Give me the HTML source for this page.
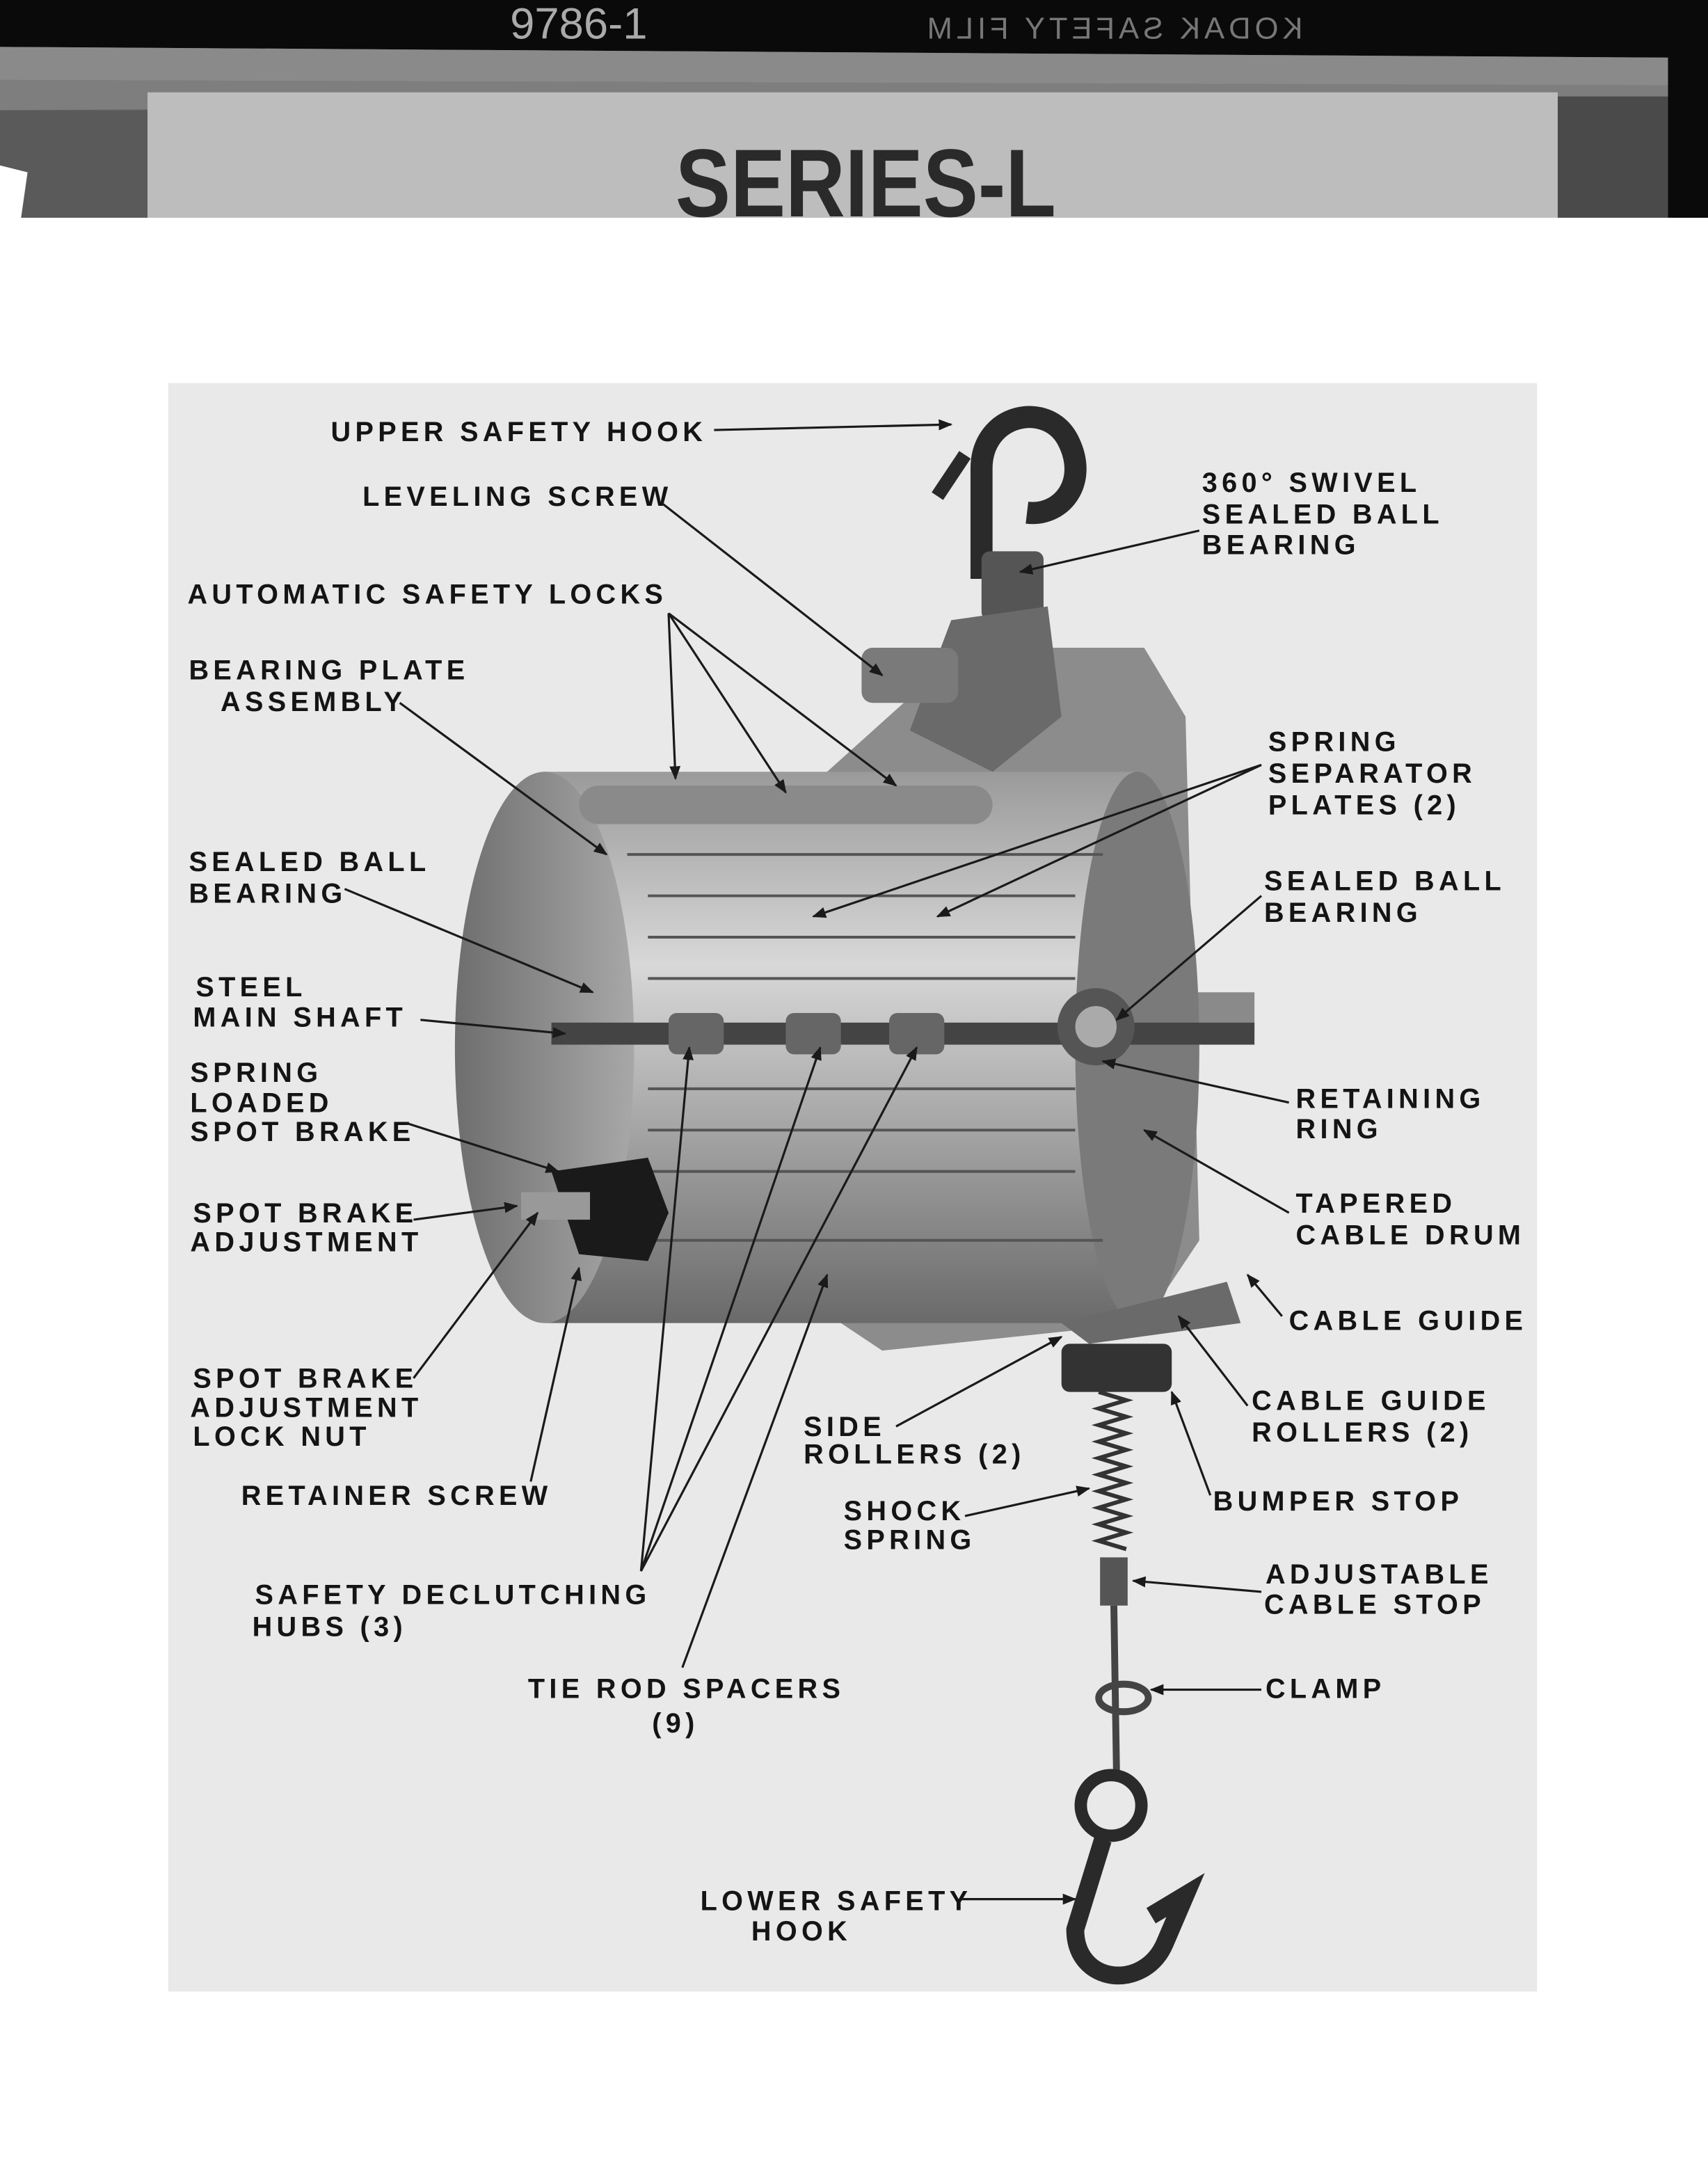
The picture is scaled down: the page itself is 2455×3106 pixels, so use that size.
<!DOCTYPE html>
<html><head><meta charset="utf-8"><style>
html,body{margin:0;padding:0;background:#fff;}
svg{display:block;}
.l{font-family:"Liberation Sans",sans-serif;font-weight:bold;font-size:20px;letter-spacing:3.2px;fill:#141414;}
.ln{stroke:#1a1a1a;stroke-width:1.6;fill:none;}
</style></head><body>
<svg width="2455" height="3106" viewBox="0 0 1239 1568" preserveAspectRatio="none" xmlns="http://www.w3.org/2000/svg">
<defs>
<marker id="a" markerWidth="10" markerHeight="8" refX="9" refY="4" orient="auto" markerUnits="userSpaceOnUse"><path d="M0,0 L10,4 L0,8 Z" fill="#1a1a1a"/></marker>
<linearGradient id="drum" x1="0" y1="0" x2="0" y2="1"><stop offset="0" stop-color="#9a9a9a"/><stop offset="0.35" stop-color="#d8d8d8"/><stop offset="0.7" stop-color="#9c9c9c"/><stop offset="1" stop-color="#6a6a6a"/></linearGradient>
<linearGradient id="end" x1="0" y1="0" x2="1" y2="0"><stop offset="0" stop-color="#6e6e6e"/><stop offset="1" stop-color="#a8a8a8"/></linearGradient>
</defs>
<rect width="1239" height="1568" fill="#fff"/>
<!-- header -->
<polygon points="0,0 1239,0 1239,160 0,160" fill="#6a6a6a"/>
<polygon points="0,0 1239,0 1239,42 0,34" fill="#0a0a0a"/>
<polygon points="0,34 1239,42 1239,62 0,58" fill="#8a8a8a"/>
<polygon points="0,58 1239,62 1239,72 0,80" fill="#7e7e7e"/>
<rect x="0" y="80" width="107" height="80" fill="#5a5a5a"/>
<rect x="1130" y="70" width="80" height="90" fill="#4a4a4a"/>
<rect x="1210" y="0" width="29" height="160" fill="#0a0a0a"/>
<rect x="107" y="67" width="1023" height="94" fill="#bdbdbd"/>
<polygon points="0,120 20,125 15,160 0,160" fill="#fff"/>
<rect x="0" y="158" width="1239" height="4" fill="#fff"/>
<text x="955" y="28" font-family="Liberation Sans,sans-serif" font-size="22" fill="#777" transform="translate(1900,0) scale(-1,1)" letter-spacing="3">KODAK SAFETY FILM</text>
<text x="370" y="28" font-family="Liberation Sans,sans-serif" font-size="32" fill="#aaa">9786-1</text>
<text x="490" y="157" textLength="276" lengthAdjust="spacingAndGlyphs" font-family="Liberation Sans Narrow,Liberation Sans,sans-serif" font-weight="bold" font-size="70" fill="#2a2a2a">SERIES-L</text>
<!-- diagram area -->
<rect x="122" y="278" width="993" height="1167" fill="#e9e9e9"/>
<!-- machine: back plate -->
<polygon points="600,560 700,470 830,470 860,520 870,900 830,960 640,980 610,960" fill="#8c8c8c"/>
<rect x="835" y="720" width="75" height="30" fill="#8a8a8a"/>
<!-- upper hook -->
<path d="M712,420 L712,340 C712,300 760,290 775,320 C790,350 770,375 745,372" stroke="#2a2a2a" stroke-width="16" fill="none"/>
<path d="M700,330 L680,360" stroke="#2a2a2a" stroke-width="10"/>
<rect x="712" y="400" width="45" height="50" rx="6" fill="#555"/>
<polygon points="690,450 760,440 770,520 720,560 660,530" fill="#6a6a6a"/>
<rect x="625" y="470" width="70" height="40" rx="8" fill="#7a7a7a"/>
<!-- drum -->
<rect x="395" y="560" width="430" height="400" fill="url(#drum)"/>
<ellipse cx="825" cy="760" rx="45" ry="200" fill="#7a7a7a"/>
<ellipse cx="395" cy="760" rx="65" ry="200" fill="url(#end)"/>
<g stroke="#555" stroke-width="2">
<line x1="455" y1="620" x2="800" y2="620"/><line x1="455" y1="900" x2="800" y2="900"/>
<line x1="470" y1="650" x2="780" y2="650"/><line x1="470" y1="680" x2="780" y2="680"/>
<line x1="470" y1="710" x2="780" y2="710"/><line x1="470" y1="790" x2="780" y2="790"/>
<line x1="470" y1="820" x2="780" y2="820"/><line x1="470" y1="850" x2="780" y2="850"/>
</g>
<rect x="420" y="570" width="300" height="28" rx="14" fill="#8a8a8a"/>
<rect x="400" y="742" width="510" height="16" fill="#444"/>
<rect x="485" y="735" width="40" height="30" rx="6" fill="#666"/>
<rect x="570" y="735" width="40" height="30" rx="6" fill="#666"/>
<rect x="645" y="735" width="40" height="30" rx="6" fill="#666"/>
<circle cx="795" cy="745" r="28" fill="#555"/><circle cx="795" cy="745" r="15" fill="#aaa"/>
<path d="M400,850 L470,840 L485,880 L470,915 L420,910 Z" fill="#1a1a1a"/>
<rect x="378" y="865" width="50" height="20" fill="#999"/>
<!-- lower assembly -->
<polygon points="770,960 890,930 900,960 790,975" fill="#6a6a6a"/>
<rect x="770" y="975" width="80" height="35" rx="6" fill="#333"/>
<path d="M797,1010 l20,6 l-20,6 l20,6 l-20,6 l20,6 l-20,6 l20,6 l-20,6 l20,6 l-20,6 l20,6 l-20,6 l20,6 l-20,6 l20,6 l-20,6 l20,6 l-20,6 l20,6" stroke="#333" stroke-width="3" fill="none"/>
<rect x="798" y="1130" width="20" height="35" fill="#555"/>
<line x1="808" y1="1165" x2="810" y2="1290" stroke="#444" stroke-width="5"/>
<ellipse cx="815" cy="1232" rx="18" ry="10" fill="none" stroke="#444" stroke-width="5"/>
<circle cx="806" cy="1310" r="22" fill="none" stroke="#2a2a2a" stroke-width="9"/>
<path d="M800,1335 L780,1400 C780,1440 830,1445 845,1410 L860,1375 L835,1390" stroke="#2a2a2a" stroke-width="13" fill="none"/>
<!-- labels -->
<g class="l">
<text x="240" y="320">UPPER SAFETY HOOK</text>
<text x="263" y="367">LEVELING SCREW</text>
<text x="136" y="438">AUTOMATIC SAFETY LOCKS</text>
<text x="137" y="493">BEARING PLATE</text><text x="160" y="516">ASSEMBLY</text>
<text x="872" y="357">360° SWIVEL</text><text x="872" y="380">SEALED BALL</text><text x="872" y="402">BEARING</text>
<text x="920" y="545">SPRING</text><text x="920" y="568">SEPARATOR</text><text x="920" y="591">PLATES (2)</text>
<text x="917" y="646">SEALED BALL</text><text x="917" y="669">BEARING</text>
<text x="137" y="632">SEALED BALL</text><text x="137" y="655">BEARING</text>
<text x="142" y="723">STEEL</text><text x="140" y="745">MAIN SHAFT</text>
<text x="138" y="785">SPRING</text><text x="138" y="807">LOADED</text><text x="138" y="828">SPOT BRAKE</text>
<text x="140" y="887">SPOT BRAKE</text><text x="138" y="908">ADJUSTMENT</text>
<text x="140" y="1007">SPOT BRAKE</text><text x="138" y="1028">ADJUSTMENT</text><text x="140" y="1049">LOCK NUT</text>
<text x="175" y="1092">RETAINER SCREW</text>
<text x="185" y="1164">SAFETY DECLUTCHING</text><text x="183" y="1187">HUBS (3)</text>
<text x="383" y="1232">TIE ROD SPACERS</text><text x="473" y="1257">(9)</text>
<text x="940" y="804">RETAINING</text><text x="940" y="826">RING</text>
<text x="940" y="880">TAPERED</text><text x="940" y="903">CABLE DRUM</text>
<text x="935" y="965">CABLE GUIDE</text>
<text x="908" y="1023">CABLE GUIDE</text><text x="908" y="1046">ROLLERS (2)</text>
<text x="583" y="1042">SIDE</text><text x="583" y="1062">ROLLERS (2)</text>
<text x="880" y="1096">BUMPER STOP</text>
<text x="612" y="1103">SHOCK</text><text x="612" y="1124">SPRING</text>
<text x="918" y="1149">ADJUSTABLE</text><text x="917" y="1171">CABLE STOP</text>
<text x="918" y="1232">CLAMP</text>
<text x="508" y="1386">LOWER SAFETY</text><text x="545" y="1408">HOOK</text>
</g>
<g class="ln" marker-end="url(#a)">
<line x1="518" y1="312" x2="690" y2="308"/>
<line x1="480" y1="365" x2="640" y2="490"/>
<line x1="485" y1="445" x2="490" y2="565"/><line x1="485" y1="445" x2="570" y2="575"/><line x1="485" y1="445" x2="650" y2="570"/>
<line x1="290" y1="510" x2="440" y2="620"/>
<line x1="870" y1="385" x2="740" y2="415"/>
<line x1="915" y1="555" x2="590" y2="665"/><line x1="915" y1="555" x2="680" y2="665"/>
<line x1="915" y1="650" x2="810" y2="740"/>
<line x1="250" y1="645" x2="430" y2="720"/>
<line x1="305" y1="740" x2="410" y2="750"/>
<line x1="295" y1="815" x2="405" y2="850"/>
<line x1="300" y1="885" x2="375" y2="875"/>
<line x1="300" y1="1000" x2="390" y2="880"/>
<line x1="385" y1="1075" x2="420" y2="920"/>
<line x1="465" y1="1140" x2="500" y2="760"/><line x1="465" y1="1140" x2="595" y2="760"/><line x1="465" y1="1140" x2="665" y2="760"/>
<line x1="495" y1="1210" x2="600" y2="925"/>
<line x1="935" y1="800" x2="800" y2="770"/>
<line x1="935" y1="880" x2="830" y2="820"/>
<line x1="930" y1="955" x2="905" y2="925"/>
<line x1="905" y1="1020" x2="855" y2="955"/>
<line x1="650" y1="1035" x2="770" y2="970"/>
<line x1="878" y1="1085" x2="850" y2="1010"/>
<line x1="700" y1="1100" x2="790" y2="1080"/>
<line x1="915" y1="1155" x2="822" y2="1147"/>
<line x1="915" y1="1226" x2="835" y2="1226"/>
<line x1="697" y1="1378" x2="780" y2="1378"/>
</g>
</svg>
</body></html>
